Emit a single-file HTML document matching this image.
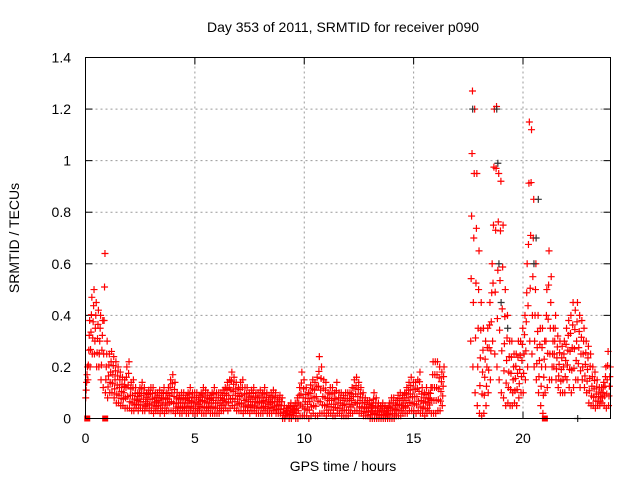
<!DOCTYPE html>
<html><head><meta charset="utf-8"><style>
body{margin:0;background:#fff}
svg{display:block;font-family:"Liberation Sans",sans-serif}
</style></head><body>
<svg id="chart" width="640" height="480" viewBox="0 0 640 480">
<text x="343" y="32" font-size="14" text-anchor="middle" fill="#000">Day 353 of 2011, SRMTID for receiver p090</text>
<text x="343" y="471" font-size="14" text-anchor="middle" fill="#000">GPS time / hours</text>
<text x="0" y="0" font-size="14" text-anchor="middle" fill="#000" transform="translate(19,238) rotate(-90)">SRMTID / TECUs</text>
<g id="grid"></g><g id="ticks"></g><g id="marks"></g>
<rect x="85.5" y="57.5" width="525" height="361" fill="none" stroke="#000" stroke-width="1"/>
</svg>
<script>
const xTicks=[0,5,10,15,20];
const yTicks=[0,0.2,0.4,0.6,0.8,1,1.2,1.4];
const yTickLabels=["0","0.2","0.4","0.6","0.8","1","1.2","1.4"];
const binHours=0.1;
const redLo=[.08,.15,.2,.25,.25,.2,.2,.15,.12,.1,
.08,.1,.1,.08,.06,.06,.05,.05,.04,.04,
.04,.03,.03,.04,.03,.04,.03,.03,.04,.03,
.03,.02,.03,.03,.02,.03,.02,.03,.03,.03,
.03,.02,.03,.02,.02,.03,.02,.02,.03,.02,
.02,.02,.03,.02,.02,.02,.03,.02,.02,.02,
.02,.02,.03,.03,.04,.03,.04,.05,.04,.03,
.03,.03,.02,.03,.03,.02,.03,.03,.02,.02,
.02,.02,.03,.02,.02,.02,.03,.02,.02,.02,
0,0,.01,0,0,.01,0,0,.01,.01,
.01,.01,0,.01,.02,.01,.01,.02,.02,.02,
.01,.02,.02,.01,.01,.02,.02,.01,.01,.01,
.01,.02,.02,.03,.03,.02,.02,.01,.01,.01,
0,0,0,0,0,0,0,0,0,0,
0,0,.01,.01,.01,.02,.02,.02,.03,.03,
.03,.02,.03,.02,.02,.01,.02,.03,.02,.02,
.02,.03,.03,.05,-1,-1,-1,-1,-1,-1,
-1,-1,-1,-1,-1,-1,.3,.2,.1,.05,
.02,.01,.02,.05,.1,.15,.3,.25,.2,.15,
.1,.08,.05,.06,.05,.05,.06,.05,.08,.1,
.1,.15,.2,.3,.25,.2,.15,.1,.05,.02,
.1,.12,.15,.15,.2,.15,.12,.1,.1,.1,
.15,.12,.1,.12,.15,.15,.12,.15,.12,.1,
.06,.05,.05,.04,.05,.05,.06,.05,.04,.05];
const redHi=[.2,.38,.47,.5,.45,.42,.4,.38,.64,.3,
.25,.26,.24,.22,.2,.18,.16,.15,.2,.22,
.14,.15,.12,.1,.12,.14,.12,.1,.11,.12,
.12,.1,.1,.11,.1,.12,.1,.12,.15,.17,
.14,.1,.09,.1,.1,.09,.1,.12,.1,.1,
.1,.09,.1,.12,.11,.1,.09,.1,.12,.1,
.1,.1,.11,.12,.14,.15,.18,.16,.14,.12,
.14,.15,.12,.12,.1,.11,.12,.1,.1,.11,
.1,.12,.1,.09,.1,.11,.1,.08,.09,.08,
.05,.04,.05,.06,.05,.06,.08,.12,.18,.15,
.12,.1,.13,.15,.14,.16,.24,.2,.15,.14,
.1,.12,.12,.1,.14,.1,.1,.09,.1,.1,
.1,.12,.15,.16,.14,.12,.1,.08,.07,.07,
.06,.1,.08,.06,.05,.06,.05,.04,.06,.08,
.08,.07,.09,.1,.09,.1,.12,.14,.16,.14,
.14,.15,.18,.12,.1,.12,.1,.12,.22,.22,
.22,.2,.18,.2,-1,-1,-1,-1,-1,-1,
-1,-1,-1,-1,-1,-1,1.27,1.2,.95,.65,
.45,.35,.3,.35,.45,.6,1.2,1.21,.95,.92,
.75,.5,.4,.3,.3,.25,.25,.3,.3,.35,
.4,.6,1.15,1.12,.85,.6,.4,.35,.35,.3,
.5,.65,.55,.35,.4,.32,.3,.28,.3,.35,
.38,.4,.45,.42,.45,.4,.38,.35,.3,.28,
.25,.2,.18,.15,.12,.12,.14,.2,.26,.2];
const blackT=[17.7,18.8,18.85,19.0,20.5,20.6,20.7,22.5,18.9,19.3];
const blackV=[1.2,1.2,0.99,0.45,0.6,0.7,0.85,0,0.6,0.35];
const squareT=[0.08,0.9,21.0];
const squareV=[0,0,0];

const X0=85.5,X1=610.5,Y0=418.5,Y1=57.5;
const xs=h=>X0+(X1-X0)*h/24;
const ys=v=>Y0-(Y0-Y1)*v/1.4;
const NS="http://www.w3.org/2000/svg";
const mk=(tag,attrs,parent)=>{const e=document.createElementNS(NS,tag);for(const k in attrs)e.setAttribute(k,attrs[k]);parent.appendChild(e);return e;};
const grid=document.getElementById('grid'),ticks=document.getElementById('ticks'),marks=document.getElementById('marks');
xTicks.forEach(t=>{
  const x=xs(t);
  if(t>0){const g=mk('line',{x1:x,x2:x,y1:Y0,y2:Y1,stroke:'#999','stroke-dasharray':'2,3'},grid);
  
  }
  mk('line',{x1:x,x2:x,y1:Y0,y2:Y0-7,stroke:'#000'},ticks);
  mk('line',{x1:x,x2:x,y1:Y1,y2:Y1+7,stroke:'#000'},ticks);
  const l=mk('text',{x:x,y:443,'font-size':14,'text-anchor':'middle',fill:'#000'},ticks);
  l.textContent=t;
  
  
});
yTicks.forEach((t,i)=>{
  const y=ys(t);
  if(t>0&&t<1.4){const g=mk('line',{x1:X0,x2:X1,y1:y,y2:y,stroke:'#999','stroke-dasharray':'2,3'},grid);
  
  }
  mk('line',{x1:X0,x2:X0+7,y1:y,y2:y,stroke:'#000'},ticks);
  mk('line',{x1:X1,x2:X1-7,y1:y,y2:y,stroke:'#000'},ticks);
  const l=mk('text',{x:71,y:y+5,'font-size':14,'text-anchor':'end',fill:'#000'},ticks);
  l.textContent=yTickLabels[i];
  
  
});
function plus(h,v,color,name){
  const x=xs(h),y=ys(v);
  const p=mk('path',{d:`M${x-3.5},${y}h7M${x},${y-3.5}v7`,stroke:color,'stroke-width':1.2,fill:'none'},marks);
  
  
}
redLo.forEach((lo,i)=>{
  const hi=redHi[i];
  if(hi<0)return;
  for(let k=0;k<5;k++){
    const v=lo+(hi-lo)*k/4;
    const h=(i+0.5)*binHours+(k-2)*0.02;
    plus(h,v,'#f00','red-point');
  }
});
blackT.forEach((t,i)=>plus(t,blackV[i],'#333','black-point'));
squareT.forEach((t,i)=>{
  const r=mk('rect',{x:xs(t)-3,y:ys(squareV[i])-3,width:6,height:6,fill:'#f00'},marks);
  
  
});
</script>
</body></html>
